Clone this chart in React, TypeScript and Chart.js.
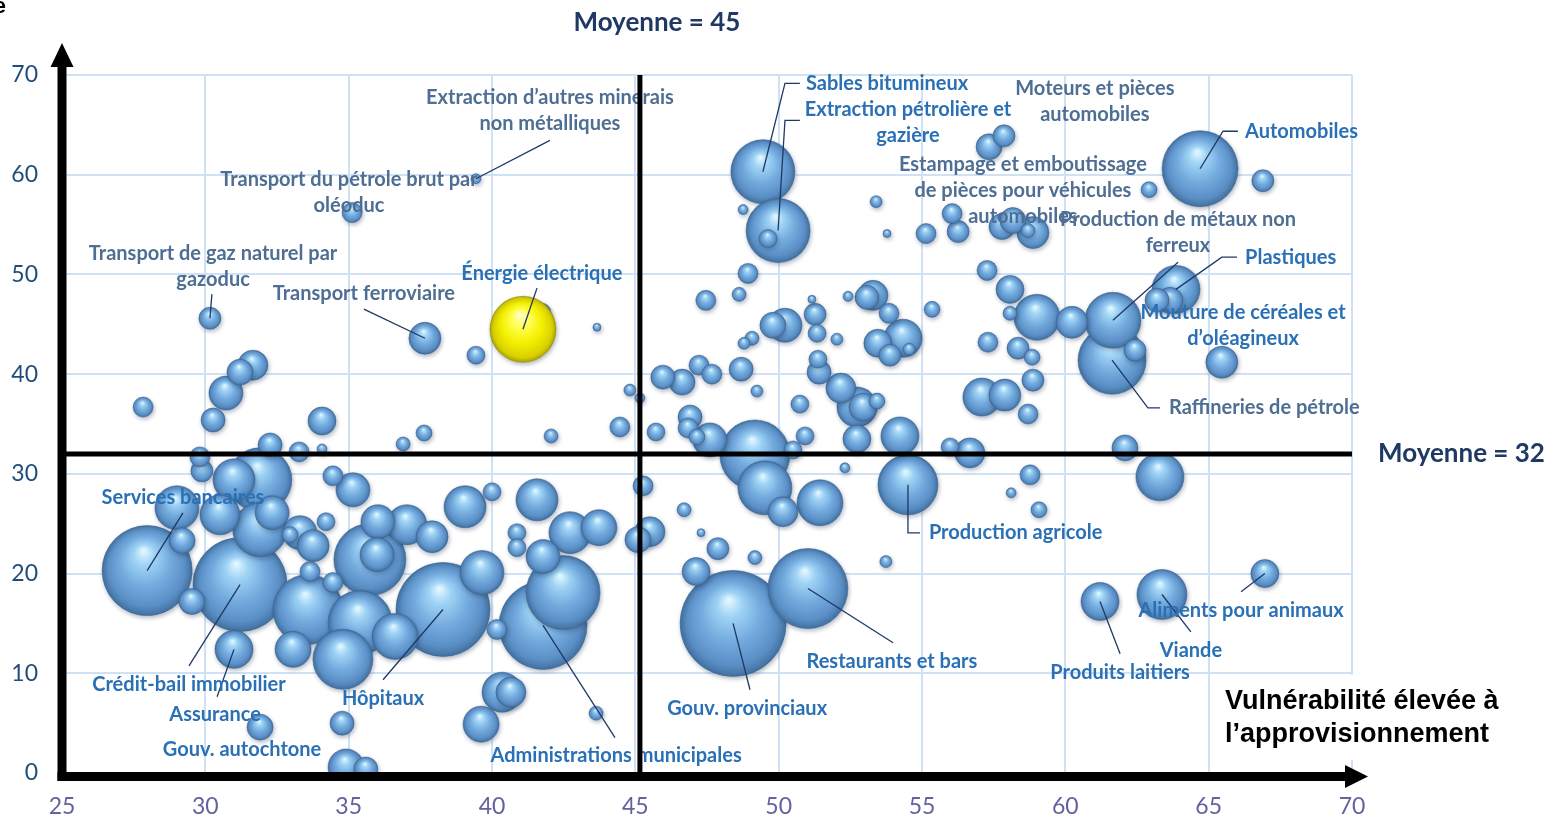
import React, { useEffect, useRef } from "react";
import { Chart, registerables } from "chart.js";

Chart.register(...registerables);

// ---- Données : vulnérabilité à l'approvisionnement (x) / à la demande (y) / taille ----
const secteursX = [
  35.12, 39.44, 30.16, 37.66, 41.74, 41.08, 39.44, 43.66, 31.66, 31.21,
  30.72, 30.27, 27.83, 34.07, 37.63, 36.9, 42.06, 44.46, 44.81, 45.16,
  32.26, 33.27, 34.07, 29.81, 29.88, 31.9, 31.0, 34.45, 35.15, 29.01,
  30.51, 32.33, 31.9, 34.21, 29.19, 32.95, 33.3, 33.76, 36.02, 37.03,
  37.91, 35.99, 35.74, 39.06, 27.97, 31.21, 29.53, 33.65, 34.45, 33.58,
  35.4, 34.8, 33.06, 36.62, 38.29, 31.0, 31.91, 34.77, 34.91, 35.6,
  40.0, 41.57, 42.72, 43.73, 40.87, 40.87, 41.78, 39.65, 42.48, 41.78,
  40.17, 40.35, 40.66, 39.62, 43.63, 45.09, 45.51, 49.45, 49.98, 49.63,
  48.76, 48.93, 48.62, 47.46, 51.16, 52.42, 53.08, 53.29, 53.85, 55.35,
  51.27, 51.34, 52.03, 49.8, 50.22, 54.34, 53.46, 53.88, 54.55, 49.07,
  48.79, 45.96, 46.63, 47.22, 47.67, 48.69, 49.24, 51.37, 51.41, 52.17,
  52.73, 52.94, 53.43, 50.74, 45.72, 46.91, 46.84, 47.15, 47.6, 49.17,
  50.92, 50.5, 52.73, 54.23, 55.98, 56.67, 57.86, 57.34, 53.4, 53.78,
  55.14, 56.05, 56.26, 57.79, 58.17, 58.87, 58.7, 62.92, 57.27, 58.07,
  59.01, 58.07, 60.23, 61.66, 61.63, 62.43, 63.86, 63.65, 63.2, 64.7,
  66.89, 65.46, 57.3, 58.35, 58.84, 58.87, 57.09, 57.89, 58.7, 62.08,
  63.3, 45.27, 49.52, 50.15, 51.44, 52.31, 46.7, 47.29, 47.88, 49.17,
  47.12, 48.41, 51.02, 54.51, 58.77, 58.11, 59.08, 53.74, 61.21, 63.37,
  66.96,
];

const secteursY = [
  56.2, 59.6, 45.6, 43.6, 46.2, 44.5, 41.9, 44.7, 40.9, 40.2,
  38.1, 35.4, 36.7, 35.3, 34.1, 33.0, 33.8, 34.7, 38.4, 37.6,
  32.9, 32.2, 32.5, 31.7, 30.3, 29.4, 29.4, 29.8, 28.4, 26.6,
  25.9, 26.1, 24.4, 25.2, 23.3, 23.9, 24.1, 22.8, 25.2, 24.9,
  23.7, 21.9, 21.4, 26.7, 20.3, 18.9, 17.2, 20.2, 19.1, 16.4,
  15.1, 11.4, 12.4, 13.7, 16.4, 12.4, 4.6, 5.0, 0.6, 0.4,
  28.2, 27.4, 24.1, 24.6, 24.1, 22.6, 21.7, 20.1, 18.1, 14.8,
  14.4, 8.1, 8.1, 4.9, 6.0, 23.4, 24.2, 60.3, 54.4, 53.6,
  56.5, 50.1, 48.0, 47.4, 47.5, 47.8, 47.7, 47.9, 46.1, 46.5,
  46.0, 44.1, 43.5, 44.9, 44.9, 43.6, 43.1, 41.9, 42.5, 43.6,
  43.1, 39.7, 39.2, 40.9, 40.0, 40.5, 38.3, 41.5, 40.2, 38.6,
  36.7, 36.7, 37.3, 37.0, 34.2, 35.7, 34.6, 33.7, 33.4, 31.9,
  33.8, 32.4, 33.5, 33.8, 32.7, 32.1, 63.9, 62.8, 57.3, 54.1,
  54.1, 56.1, 54.3, 54.8, 55.4, 54.2, 54.4, 58.5, 50.4, 48.5,
  45.7, 46.1, 45.2, 45.4, 41.4, 42.4, 48.5, 47.4, 47.4, 60.6,
  59.4, 41.2, 43.2, 42.6, 41.7, 39.4, 37.7, 37.9, 36.0, 32.6,
  29.7, 28.8, 28.6, 26.2, 27.1, 30.6, 26.4, 24.1, 22.5, 21.6,
  20.2, 15.0, 18.5, 28.9, 29.9, 28.1, 26.4, 21.2, 17.2, 17.9,
  20.0,
];

const tailles = [
  10, 5, 11, 16, 9, 33, 9, 4, 15, 13,
  17, 12, 10, 14, 8, 7, 7, 10, 6, 5,
  12, 10, 5, 10, 11, 32, 21, 10, 17, 22,
  20, 17, 27, 9, 13, 8, 17, 16, 17, 20,
  16, 17, 36, 21, 45, 47, 13, 10, 10, 35,
  32, 30, 18, 23, 47, 19, 13, 12, 18, 12,
  9, 21, 21, 18, 9, 9, 17, 22, 37, 44,
  10, 20, 15, 18, 7, 13, 15, 32, 32, 9,
  5, 10, 7, 10, 4, 5, 12, 15, 10, 8,
  11, 9, 6, 13, 17, 19, 14, 11, 6, 7,
  6, 12, 13, 10, 10, 12, 6, 9, 12, 15,
  20, 14, 8, 9, 9, 12, 10, 8, 17, 35,
  9, 9, 14, 19, 9, 15, 11, 13, 6, 4,
  10, 10, 11, 13, 13, 16, 7, 8, 10, 14,
  23, 7, 16, 28, 34, 11, 24, 13, 12, 38,
  11, 16, 10, 11, 8, 11, 19, 16, 10, 13,
  24, 10, 27, 15, 23, 5, 7, 4, 11, 7,
  14, 53, 40, 30, 10, 5, 8, 6, 19, 25,
  14,
];

const indiceSurligne = 5; // Énergie électrique

const ticksX = [25, 30, 35, 40, 45, 50, 55, 60, 65, 70];
const ticksY = [0, 10, 20, 30, 40, 50, 60, 70];

const moyenneX = 45.16;
const moyenneY = 32;

type Etiquette = {
  lignes: string[];
  ton: "bleu" | "gris";
  align: "center" | "left";
  x: number;
  y: number;
  guide?: [number, number][];
  cible?: number;
};

const etiquettes: Etiquette[] = [
  { lignes: ["Extraction d\u2019autres minerais", "non métalliques"], ton: "gris", align: "center", x: 42.02, y: 67.74, guide: [[42.02, 63.44]], cible: 1 },
  { lignes: ["Transport du pétrole brut par", "oléoduc"], ton: "gris", align: "center", x: 35.01, y: 59.55 },
  { lignes: ["Transport de gaz naturel par", "gazoduc"], ton: "gris", align: "center", x: 30.27, y: 52.13, guide: [[30.23, 48.02]], cible: 2 },
  { lignes: ["Transport ferroviaire"], ton: "gris", align: "center", x: 35.53, y: 48.12, guide: [[35.53, 46.52]], cible: 3 },
  { lignes: ["Énergie électrique"], ton: "bleu", align: "center", x: 41.74, y: 50.13, guide: [[41.57, 48.63]], cible: 5 },
  { lignes: ["Sables bitumineux"], ton: "bleu", align: "left", x: 50.95, y: 69.17, guide: [[50.74, 69.17], [50.22, 69.17]], cible: 77 },
  { lignes: ["Extraction pétrolière et", "gazière"], ton: "bleu", align: "center", x: 54.51, y: 66.56, guide: [[50.74, 65.45], [50.22, 65.45]], cible: 78 },
  { lignes: ["Moteurs et pièces", "automobiles"], ton: "gris", align: "center", x: 61.03, y: 68.67 },
  { lignes: ["Automobiles"], ton: "bleu", align: "left", x: 66.27, y: 64.36, guide: [[66.02, 64.36], [65.5, 64.36]], cible: 149 },
  { lignes: ["Estampage et emboutissage", "de pièces pour véhicules", "automobiles"], ton: "gris", align: "center", x: 58.52, y: 61.05 },
  { lignes: ["Production de métaux non", "ferreux"], ton: "gris", align: "center", x: 63.93, y: 55.54, guide: [[63.93, 51.23]], cible: 143 },
  { lignes: ["Plastiques"], ton: "bleu", align: "left", x: 66.27, y: 51.73, guide: [[65.99, 51.73], [65.46, 51.73]], cible: 146 },
  { lignes: ["Mouture de céréales et", "d\u2019oléagineux"], ton: "bleu", align: "center", x: 66.2, y: 46.22 },
  { lignes: ["Raffineries de pétrole"], ton: "gris", align: "left", x: 63.62, y: 36.61, guide: [[63.3, 36.61], [62.88, 36.61]], cible: 144 },
  { lignes: ["Services bancaires"], ton: "bleu", align: "center", x: 29.22, y: 27.59, guide: [[29.22, 26.09]], cible: 44 },
  { lignes: ["Crédit-bail immobilier"], ton: "bleu", align: "center", x: 29.43, y: 8.85, guide: [[29.43, 10.75]], cible: 45 },
  { lignes: ["Assurance"], ton: "bleu", align: "center", x: 30.34, y: 5.84, guide: [[30.41, 7.65]], cible: 55 },
  { lignes: ["Gouv. autochtone"], ton: "bleu", align: "center", x: 31.28, y: 2.34 },
  { lignes: ["Hôpitaux"], ton: "bleu", align: "center", x: 36.2, y: 7.45, guide: [[36.2, 9.35]], cible: 54 },
  { lignes: ["Administrations municipales"], ton: "bleu", align: "center", x: 44.33, y: 1.73, guide: [[44.29, 3.54]], cible: 69 },
  { lignes: ["Gouv. provinciaux"], ton: "bleu", align: "center", x: 48.9, y: 6.44, guide: [[49.0, 8.35]], cible: 171 },
  { lignes: ["Restaurants et bars"], ton: "bleu", align: "center", x: 53.95, y: 11.15, guide: [[53.99, 13.06]], cible: 172 },
  { lignes: ["Production agricole"], ton: "bleu", align: "left", x: 55.24, y: 24.08, guide: [[54.93, 24.08], [54.51, 24.08]], cible: 173 },
  { lignes: ["Produits laitiers"], ton: "bleu", align: "center", x: 61.91, y: 10.05, guide: [[61.91, 11.95]], cible: 178 },
  { lignes: ["Viande"], ton: "bleu", align: "center", x: 64.38, y: 12.26, guide: [[64.38, 14.16]], cible: 179 },
  { lignes: ["Aliments pour animaux"], ton: "bleu", align: "center", x: 66.13, y: 16.26, guide: [[66.13, 18.17]], cible: 180 },
];

const POLICE = "Lato, 'Open Sans', sans-serif";
const ARIAL = "'Liberation Sans', Arial, sans-serif";

export default function App() {
  const ref = useRef<HTMLCanvasElement>(null);

  useEffect(() => {
    document.body.style.margin = "0";
    const canvas = ref.current;
    if (!canvas) return;

    const ordre = tailles
      .map((_, i) => i)
      .filter((i) => i !== indiceSurligne)
      .sort((a, b) => tailles[b] - tailles[a]);
    const bleus = ordre.map((i) => ({ x: secteursX[i], y: secteursY[i], r: tailles[i] }));
    const jaunes = [{ x: secteursX[indiceSurligne], y: secteursY[indiceSurligne], r: tailles[indiceSurligne] }];

    const remplissage = (jaune: boolean) => (c: any) => {
      const repli = jaune ? "#F2F200" : "#6FA8DC";
      const chart = c.chart;
      const raw = c.raw;
      const xs = chart && chart.scales ? chart.scales.x : null;
      const ys = chart && chart.scales ? chart.scales.y : null;
      if (!raw || !xs || !ys || typeof raw.x !== "number") return repli;
      const cx = xs.getPixelForValue(raw.x);
      const cy = ys.getPixelForValue(raw.y);
      const r = Math.max(Number(raw.r) || 1, 1);
      if (!isFinite(cx) || !isFinite(cy) || !isFinite(r)) return repli;
      const g = chart.ctx.createRadialGradient(cx - r * 0.08, cy - r * 0.45, r * 0.02, cx, cy, r);
      if (jaune) {
        g.addColorStop(0, "#FFFFD0");
        g.addColorStop(0.25, "#FFFF55");
        g.addColorStop(0.6, "#F4F000");
        g.addColorStop(0.9, "#D8D000");
        g.addColorStop(1, "#AFA500");
      } else {
        g.addColorStop(0, "#E2F7FF");
        g.addColorStop(0.22, "#9FD3F5");
        g.addColorStop(0.55, "#74ABDE");
        g.addColorStop(0.85, "#5A8FC6");
        g.addColorStop(1, "#42719F");
      }
      return g;
    };

    const decor = {
      id: "decor",
      beforeDatasetsDraw(chart: any) {
        const ctx = chart.ctx;
        ctx.save();
        ctx.shadowColor = "rgba(40,60,90,0.35)";
        ctx.shadowBlur = 4;
        ctx.shadowOffsetX = 1;
        ctx.shadowOffsetY = 2;
      },
      afterDatasetsDraw(chart: any) {
        const ctx = chart.ctx;
        ctx.restore();
        const xs = chart.scales.x;
        const ys = chart.scales.y;
        const area = chart.chartArea;
        const px = (v: number) => xs.getPixelForValue(v);
        const py = (v: number) => ys.getPixelForValue(v);

        // Lignes de rappel
        ctx.save();
        ctx.strokeStyle = "#1F3864";
        ctx.lineWidth = 1.3;
        etiquettes.forEach((e) => {
          if (!e.guide || e.cible === undefined) return;
          ctx.beginPath();
          e.guide.forEach((p, k) => {
            if (k === 0) ctx.moveTo(px(p[0]), py(p[1]));
            else ctx.lineTo(px(p[0]), py(p[1]));
          });
          ctx.lineTo(px(secteursX[e.cible]), py(secteursY[e.cible]));
          ctx.stroke();
        });
        ctx.restore();

        // Étiquettes
        ctx.save();
        ctx.font = `bold 20px ${POLICE}`;
        ctx.textBaseline = "middle";
        etiquettes.forEach((e) => {
          ctx.fillStyle = e.ton === "bleu" ? "#2A70B5" : "#4F6E93";
          ctx.textAlign = e.align;
          e.lignes.forEach((l, k) => {
            ctx.fillText(l, px(e.x), py(e.y) + k * 26);
          });
        });
        ctx.restore();

        // Lignes des moyennes
        ctx.save();
        ctx.strokeStyle = "#000000";
        ctx.lineWidth = 5;
        ctx.beginPath();
        ctx.moveTo(px(moyenneX), area.top);
        ctx.lineTo(px(moyenneX), area.bottom);
        ctx.moveTo(area.left, py(moyenneY));
        ctx.lineTo(area.right, py(moyenneY));
        ctx.stroke();
        ctx.restore();

        // Titre de l'axe horizontal (fond blanc)
        ctx.save();
        ctx.fillStyle = "#FFFFFF";
        ctx.fillRect(1215, 675, 330, 85);
        ctx.fillStyle = "#000000";
        ctx.font = `bold 27px ${ARIAL}`;
        ctx.textAlign = "left";
        ctx.textBaseline = "middle";
        ctx.fillText("Vulnérabilité élevée à", 1225, 702);
        ctx.fillText("l\u2019approvisionnement", 1225, 735);
        ctx.restore();

        // Axes fléchés
        ctx.save();
        ctx.fillStyle = "#000000";
        const ax = px(25);
        const ay = area.bottom + 3.5;
        ctx.fillRect(ax - 4.5, area.top - 10, 9, area.bottom - area.top + 18);
        ctx.beginPath();
        ctx.moveTo(ax, area.top - 32);
        ctx.lineTo(ax - 11.5, area.top - 8);
        ctx.lineTo(ax + 11.5, area.top - 8);
        ctx.closePath();
        ctx.fill();
        ctx.fillRect(ax - 4.5, ay - 4.5, area.right - ax + 8, 9);
        ctx.beginPath();
        ctx.moveTo(area.right + 16, ay);
        ctx.lineTo(area.right - 7, ay - 11.5);
        ctx.lineTo(area.right - 7, ay + 11.5);
        ctx.closePath();
        ctx.fill();
        ctx.restore();

        // Libellés des moyennes
        ctx.save();
        ctx.fillStyle = "#1F3864";
        ctx.font = `bold 26px ${POLICE}`;
        ctx.textBaseline = "middle";
        ctx.textAlign = "center";
        ctx.fillText(`Moyenne = ${Math.round(moyenneX)}`, px(moyenneX) + 17, 23);
        ctx.textAlign = "left";
        ctx.fillText(`Moyenne = ${Math.round(moyenneY)}`, area.right + 26, py(moyenneY));
        ctx.restore();

        // Fragment du titre vertical coupé
        ctx.save();
        ctx.fillStyle = "#000000";
        ctx.font = `bold 22px ${ARIAL}`;
        ctx.textAlign = "right";
        ctx.textBaseline = "alphabetic";
        ctx.fillText("élevée", 6, 13);
        ctx.restore();
      },
    };

    const chart = new Chart(canvas, {
      type: "bubble",
      data: {
        datasets: [
          {
            data: jaunes,
            backgroundColor: remplissage(true) as any,
            borderColor: "rgba(150,140,0,0.7)",
            borderWidth: 0.8,
            clip: 0 as any,
          },
          {
            data: bleus,
            backgroundColor: remplissage(false) as any,
            borderColor: "rgba(62,100,145,0.7)",
            borderWidth: 0.8,
            clip: 0 as any,
          },
        ],
      },
      options: {
        responsive: false,
        animation: false,
        events: [],
        layout: { autoPadding: false, padding: { left: 0, right: 193, top: 75, bottom: 0 } },
        plugins: {
          legend: { display: false },
          tooltip: { enabled: false },
        },
        scales: {
          x: {
            type: "linear",
            min: ticksX[0],
            max: ticksX[ticksX.length - 1],
            afterFit: (s: any) => {
              s.height = 46;
            },
            afterBuildTicks: (s: any) => {
              s.ticks = ticksX.map((v) => ({ value: v }));
            },
            border: { display: false },
            grid: { color: "#CFE2F5", lineWidth: 2, drawTicks: false },
            ticks: {
              autoSkip: false,
              padding: 20,
              color: "#62629E",
              font: { family: POLICE, size: 23 },
            },
          },
          y: {
            type: "linear",
            min: ticksY[0],
            max: ticksY[ticksY.length - 1],
            afterFit: (s: any) => {
              s.width = 62;
            },
            afterBuildTicks: (s: any) => {
              s.ticks = ticksY.map((v) => ({ value: v }));
            },
            border: { display: false },
            grid: { color: "#CFE2F5", lineWidth: 2, drawTicks: false },
            ticks: {
              autoSkip: false,
              padding: 24,
              color: "#1F4E79",
              font: { family: POLICE, size: 23 },
            },
          },
        },
      },
      plugins: [decor],
    });

    return () => chart.destroy();
  }, []);

  return <canvas ref={ref} width={1545} height={819} style={{ display: "block" }} />;
}
